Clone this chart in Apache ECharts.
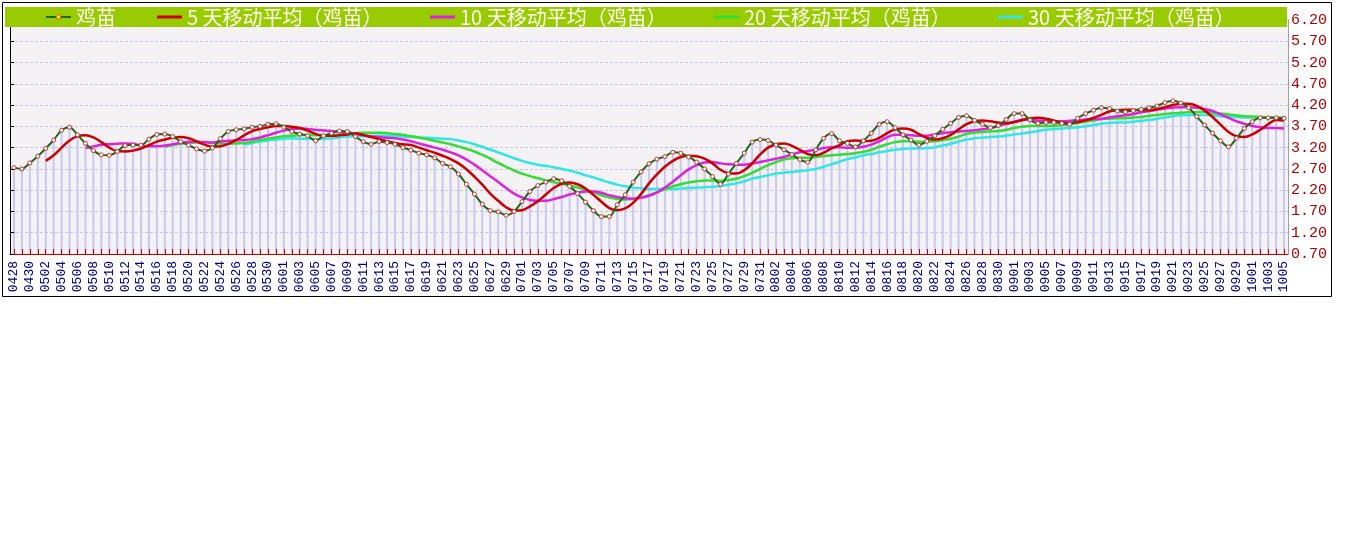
<!DOCTYPE html>
<html>
<head>
<meta charset="utf-8">
<script src="https://cdn.jsdelivr.net/npm/echarts@6/dist/echarts.min.js"></script>
<style>
html,body{margin:0;padding:0;background:#fff;}
#chart{width:1345px;height:541px;}
</style>
</head>
<body>
<div id="chart"></div>
<script>
const dates = [
'0428','0429','0430',
'0501','0502','0503','0504','0505','0506','0507','0508','0509','0510','0511','0512','0513','0514','0515','0516','0517','0518','0519','0520','0521','0522','0523','0524','0525','0526','0527','0528','0529','0530','0531',
'0601','0602','0603','0604','0605','0606','0607','0608','0609','0610','0611','0612','0613','0614','0615','0616','0617','0618','0619','0620','0621','0622','0623','0624','0625','0626','0627','0628','0629','0630',
'0701','0702','0703','0704','0705','0706','0707','0708','0709','0710','0711','0712','0713','0714','0715','0716','0717','0718','0719','0720','0721','0722','0723','0724','0725','0726','0727','0728','0729','0730','0731',
'0801','0802','0803','0804','0805','0806','0807','0808','0809','0810','0811','0812','0813','0814','0815','0816','0817','0818','0819','0820','0821','0822','0823','0824','0825','0826','0827','0828','0829','0830','0831',
'0901','0902','0903','0904','0905','0906','0907','0908','0909','0910','0911','0912','0913','0914','0915','0916','0917','0918','0919','0920','0921','0922','0923','0924','0925','0926','0927','0928','0929','0930',
'1001','1002','1003','1004','1005'
];

const seriesNames = ['鸡苗','5 天移动平均（鸡苗）','10 天移动平均（鸡苗）','20 天移动平均（鸡苗）','30 天移动平均（鸡苗）'];

const price = [
2.73,2.70,2.84,3.00,3.18,3.38,3.61,3.68,3.50,3.30,
3.13,3.03,3.02,3.11,3.25,3.26,3.26,3.40,3.51,3.52,
3.46,3.34,3.26,3.17,3.12,3.19,3.41,3.58,3.62,3.64,
3.68,3.70,3.75,3.76,3.68,3.58,3.52,3.48,3.36,3.48,
3.54,3.59,3.58,3.46,3.34,3.28,3.34,3.32,3.28,3.20,
3.14,3.07,3.03,2.96,2.83,2.75,2.58,2.34,2.11,1.87,
1.72,1.69,1.61,1.70,1.93,2.17,2.31,2.39,2.47,2.42,
2.29,2.12,1.92,1.72,1.58,1.58,1.86,2.09,2.39,2.63,
2.82,2.93,2.99,3.09,3.07,2.98,2.86,2.70,2.52,2.34,
2.58,2.83,3.07,3.33,3.39,3.37,3.26,3.15,3.04,2.92,
2.86,3.15,3.42,3.53,3.36,3.30,3.22,3.36,3.54,3.75,
3.81,3.67,3.50,3.38,3.26,3.35,3.48,3.63,3.77,3.91,
3.95,3.84,3.75,3.67,3.72,3.86,4.00,4.00,3.85,3.77,
3.79,3.79,3.77,3.75,3.89,4.00,4.08,4.14,4.12,4.06,
4.04,4.07,4.10,4.14,4.18,4.26,4.30,4.25,4.14,3.93,
3.73,3.54,3.36,3.22,3.42,3.65,3.81,3.90,3.90,3.90,
3.89
];

// 5-day average, first value on day 5 (0502)
const ma5 = [
2.89,3.02,3.20,3.37,3.47,3.49,3.44,3.33,3.20,3.12,3.11,3.13,3.18,3.26,3.34,3.39,3.43,3.45,3.42,3.35,
3.27,3.22,3.23,3.29,3.38,3.49,3.59,3.64,3.68,3.71,3.71,3.69,3.66,3.60,3.52,3.48,3.48,3.49,3.51,3.53,
3.50,3.45,3.40,3.35,3.31,3.28,3.26,3.20,3.14,3.08,3.01,2.93,2.83,2.69,2.52,2.33,2.12,1.95,1.80,1.72,
1.73,1.82,1.94,2.10,2.25,2.35,2.38,2.34,2.24,2.09,1.93,1.78,1.73,1.77,1.90,2.11,2.36,2.57,2.75,2.89,
2.98,3.01,3.00,2.94,2.83,2.68,2.60,2.59,2.67,2.83,3.04,3.20,3.28,3.30,3.24,3.15,3.05,3.02,3.08,3.18,
3.26,3.35,3.37,3.35,3.36,3.43,3.54,3.63,3.65,3.62,3.52,3.43,3.39,3.42,3.50,3.63,3.75,3.82,3.84,3.82,
3.79,3.77,3.80,3.85,3.89,3.90,3.88,3.84,3.79,3.77,3.80,3.84,3.90,3.97,4.05,4.08,4.09,4.09,4.08,4.08,
4.11,4.15,4.20,4.23,4.23,4.18,4.07,3.92,3.74,3.57,3.47,3.45,3.51,3.62,3.75,3.85,3.84
];

// 10-day average, first value on day 10 (0507)
const ma10 = [
3.19,3.23,3.27,3.28,3.29,3.30,3.29,3.25,3.23,3.23,3.25,3.28,3.31,3.34,3.34,3.33,3.32,3.34,3.36,3.37,
3.38,3.40,3.44,3.49,3.55,3.60,3.64,3.65,3.64,3.62,3.60,3.59,3.57,3.56,3.53,3.49,3.46,3.45,3.43,3.42,
3.39,3.35,3.30,3.25,3.20,3.15,3.09,3.02,2.92,2.80,2.67,2.53,2.39,2.25,2.12,2.03,1.97,1.95,1.95,1.99,
2.04,2.10,2.14,2.17,2.17,2.14,2.08,2.04,2.01,2.00,2.02,2.07,2.15,2.26,2.40,2.55,2.69,2.79,2.85,2.86,
2.83,2.81,2.80,2.80,2.83,2.86,2.90,2.94,2.98,3.04,3.09,3.12,3.15,3.19,3.21,3.21,3.20,3.20,3.22,3.27,
3.35,3.44,3.50,3.50,3.49,3.48,3.48,3.51,3.54,3.56,3.58,3.59,3.61,3.63,3.66,3.71,3.76,3.81,3.85,3.86,
3.84,3.83,3.82,3.82,3.83,3.85,3.86,3.87,3.88,3.91,3.94,3.96,3.99,4.03,4.06,4.09,4.12,4.14,4.15,4.15,
4.14,4.11,4.06,3.98,3.90,3.82,3.76,3.71,3.68,3.66,3.66,3.65
];

// 20-day average, first value on day 20 (0517)
const ma20 = [
3.22,3.26,3.29,3.31,3.32,3.32,3.31,3.30,3.29,3.30,3.31,3.34,3.38,3.41,3.44,3.47,3.48,3.49,3.50,3.49,
3.49,3.49,3.51,3.52,3.54,3.55,3.55,3.55,3.54,3.52,3.50,3.47,3.44,3.40,3.36,3.32,3.28,3.23,3.17,3.11,
3.03,2.94,2.84,2.75,2.66,2.59,2.53,2.48,2.43,2.39,2.35,2.31,2.26,2.21,2.15,2.08,2.03,1.99,1.98,1.99,
2.03,2.08,2.15,2.22,2.29,2.34,2.38,2.41,2.43,2.43,2.42,2.44,2.47,2.53,2.61,2.70,2.79,2.86,2.92,2.95,
2.96,2.96,2.98,3.00,3.02,3.03,3.05,3.07,3.10,3.15,3.22,3.28,3.33,3.35,3.35,3.34,3.34,3.35,3.38,3.41,
3.46,3.52,3.55,3.57,3.58,3.59,3.62,3.66,3.69,3.71,3.71,3.71,3.71,3.73,3.75,3.78,3.81,3.84,3.87,3.88,
3.89,3.89,3.91,3.92,3.95,3.97,3.99,4.01,4.02,4.03,4.04,4.04,4.02,4.00,3.98,3.96,3.94,3.93,3.92,3.91,
3.90,3.88
];

// 30-day average, first value on day 30 (0527)
const ma30 = [
3.27,3.31,3.34,3.37,3.39,3.41,3.42,3.41,3.41,3.40,3.41,3.42,3.44,3.46,3.47,3.47,3.48,3.48,3.48,3.47,
3.46,3.45,3.44,3.43,3.42,3.41,3.40,3.37,3.33,3.28,3.22,3.15,3.09,3.02,2.95,2.89,2.84,2.80,2.77,2.74,
2.70,2.66,2.61,2.55,2.50,2.44,2.38,2.33,2.29,2.26,2.24,2.23,2.23,2.23,2.23,2.24,2.25,2.26,2.27,2.28,
2.30,2.33,2.36,2.41,2.47,2.51,2.55,2.59,2.61,2.63,2.65,2.67,2.70,2.75,2.81,2.87,2.93,2.97,3.02,3.05,
3.09,3.12,3.15,3.17,3.18,3.18,3.19,3.21,3.25,3.29,3.34,3.39,3.42,3.44,3.45,3.46,3.48,3.51,3.53,3.56,
3.59,3.62,3.64,3.65,3.66,3.68,3.70,3.73,3.76,3.78,3.79,3.79,3.81,3.83,3.85,3.88,3.91,3.94,3.96,3.97,
3.97,3.97,3.96,3.94,3.93,3.92,3.91,3.91,3.90,3.91,3.91,3.91
];

const yMin = 0.70, yMax = 6.20, yStep = 0.50;

function pad(arr) {
  const lead = dates.length - arr.length;
  return new Array(lead).fill(null).concat(arr);
}

const chart = echarts.init(document.getElementById('chart'), null, {renderer: 'canvas'});

const legendText = {color: '#fffff0', fontSize: 20, fontFamily: '"Noto Sans CJK SC", sans-serif', lineHeight: 20};
const legendLefts = [45, 157, 430, 714, 998];
const legends = seriesNames.map((n, i) => (i === 0 ? {
  data: [{name: n, itemStyle: {color: '#ffdd00', borderColor: '#cc6600', borderWidth: 1}}],
  left: legendLefts[i], top: 7, padding: 0, itemWidth: 25, itemHeight: 6,
  textStyle: legendText, selectedMode: false, z: 20
} : {
  data: [{name: n, icon: 'rect'}],
  left: legendLefts[i], top: 7, padding: 0, itemWidth: 25, itemHeight: 3,
  textStyle: legendText, selectedMode: false, z: 20
}));

const option = {
  backgroundColor: '#ffffff',
  animation: false,
  legend: legends,
  grid: {
    left: 10, right: 57, top: 20, bottom: 287,
    show: true, backgroundColor: '#f4f2f4', borderWidth: 0
  },
  graphic: [
    {type: 'rect', shape: {x: 2.5, y: 2.5, width: 1329, height: 294}, style: {fill: null, stroke: '#000', lineWidth: 1}, z: 1, silent: true},
    {type: 'rect', shape: {x: 5, y: 7, width: 1282, height: 20}, style: {fill: '#99cc00'}, z: 15, silent: true}
  ],
  xAxis: {
    type: 'category', data: dates, boundaryGap: true, z: 10,
    axisLine: {show: true, lineStyle: {color: '#cc0000', width: 1}},
    axisTick: {show: true, inside: true, length: 5, interval: 0, alignWithLabel: true, lineStyle: {color: '#cc0000'}},
    axisLabel: {interval: 1, rotate: 90, color: '#000080', fontSize: 13, fontFamily: '"Liberation Mono", monospace', margin: 7},
    splitLine: {show: false}
  },
  yAxis: [
    {
      type: 'value', position: 'right', min: yMin, max: yMax, interval: yStep,
      axisLine: {show: true, lineStyle: {color: '#a0a0a0'}},
      axisTick: {show: false},
      axisLabel: {color: '#b00000', fontSize: 15, fontFamily: '"Liberation Mono", monospace', margin: 3, formatter: v => v.toFixed(2)},
      splitLine: {show: true, lineStyle: {color: '#c4c4e4', type: [3, 2], width: 1}}
    },
    {
      type: 'value', position: 'left', min: yMin, max: yMax, interval: yStep, z: 10,
      axisLine: {show: true, lineStyle: {color: '#000', width: 1}},
      axisTick: {show: true, inside: true, length: 4, lineStyle: {color: '#000'}},
      axisLabel: {show: false},
      splitLine: {show: false}
    }
  ],
  series: [
    {
      name: seriesNames[0] + '柱', type: 'bar', data: price, barWidth: 2, yAxisIndex: 0,
      itemStyle: {color: '#c8c8f0'}, silent: true, z: 1
    },
    {
      name: seriesNames[4], type: 'line', data: pad(ma30), smooth: 0.4, symbol: 'none', z: 3,
      lineStyle: {color: '#33e6e6', width: 2.5}, itemStyle: {color: '#33e6e6'}
    },
    {
      name: seriesNames[3], type: 'line', data: pad(ma20), smooth: 0.4, symbol: 'none', z: 4,
      lineStyle: {color: '#33dd33', width: 2.5}, itemStyle: {color: '#33dd33'}
    },
    {
      name: seriesNames[2], type: 'line', data: pad(ma10), smooth: 0.4, symbol: 'none', z: 5,
      lineStyle: {color: '#dd22dd', width: 2.5}, itemStyle: {color: '#dd22dd'}
    },
    {
      name: seriesNames[1], type: 'line', data: pad(ma5), smooth: 0.4, symbol: 'none', z: 6,
      lineStyle: {color: '#cc0000', width: 2.5}, itemStyle: {color: '#cc0000'}
    },
    {
      name: seriesNames[0], type: 'line', data: price, smooth: 0.3, z: 7,
      symbol: 'circle', symbolSize: 4, showSymbol: true,
      lineStyle: {color: '#1a6a1a', width: 2},
      itemStyle: {color: '#ffffff', borderColor: '#cc3333', borderWidth: 1}
    }
  ]
};
chart.setOption(option);
</script>
</body>
</html>
